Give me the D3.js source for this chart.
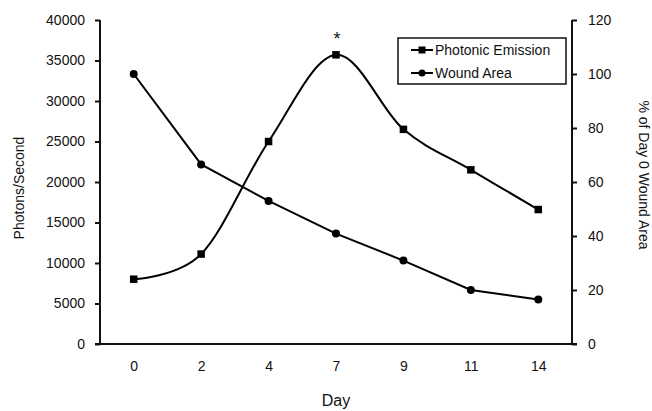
<!DOCTYPE html>
<html><head><meta charset="utf-8">
<script src="https://cdn.jsdelivr.net/npm/d3@7"></script>
<style>
body{margin:0;background:#fff;}
text{font-family:"Liberation Sans",Arial,Helvetica,sans-serif;fill:#111;}
</style></head>
<body><svg id="c" width="652" height="411"></svg>
<script>
const days = ["0","2","4","7","9","11","14"];
const photonic = [8000, 11100, 25000, 35700, 26500, 21500, 16600];
const woundArea = [100, 66.5, 53, 40.9, 30.9, 20, 16.5];
const leftTicks = [0,5000,10000,15000,20000,25000,30000,35000,40000];
const rightTicks = [0,20,40,60,80,100,120];
const seriesNames = ["Photonic Emission","Wound Area"];

const svg = d3.select("#c");
const L = 100, R = 572, T = 20, B = 344;
const x = d3.scalePoint().domain(days).range([L,R]).padding(0.5);
const yL = d3.scaleLinear().domain([0,40000]).range([B,T]);
const yR = d3.scaleLinear().domain([0,120]).range([B,T]);

const gl = svg.append("g").attr("transform",`translate(${L},0)`)
  .call(d3.axisLeft(yL).tickValues(leftTicks).tickSize(5).tickPadding(10).tickFormat(d3.format("d")));
const gr = svg.append("g").attr("transform",`translate(${R},0)`)
  .call(d3.axisRight(yR).tickValues(rightTicks).tickSize(5).tickPadding(11).tickFormat(d3.format("d")));
const gb = svg.append("g").attr("transform",`translate(0,${B})`)
  .call(d3.axisBottom(x).tickSize(0).tickPadding(17));
[gl,gr,gb].forEach(g=>{
  g.select(".domain").attr("stroke","#111").attr("stroke-width",2);
  g.selectAll(".tick line").attr("stroke","#111").attr("stroke-width",2);
  g.selectAll(".tick text").attr("font-size",14).attr("fill","#111")
   .attr("font-family","'Liberation Sans',Arial,sans-serif");
});
gb.select(".domain").attr("d",`M${L-5},0H${R+5}`);
gl.select(".domain").attr("d",`M0,${T}V${B}`);
gr.select(".domain").attr("d",`M0,${T}V${B}`);

const lineP = d3.line().x((d,i)=>x(days[i])).y(d=>yL(d)).curve(d3.curveCardinal.tension(0));
const lineW = d3.line().x((d,i)=>x(days[i])).y(d=>yR(d));
svg.append("path").datum(photonic).attr("d",lineP).attr("fill","none").attr("stroke","#000").attr("stroke-width",2);
svg.append("path").datum(woundArea).attr("d",lineW).attr("fill","none").attr("stroke","#000").attr("stroke-width",2);
svg.selectAll("rect.pm").data(photonic).enter().append("rect")
  .attr("x",(d,i)=>x(days[i])-3.75).attr("y",d=>yL(d)-3.75).attr("width",7.5).attr("height",7.5).attr("fill","#000");
svg.selectAll("circle.wm").data(woundArea).enter().append("circle")
  .attr("cx",(d,i)=>x(days[i])).attr("cy",d=>yR(d)).attr("r",4).attr("fill","#000");

svg.append("text").attr("x",x("7")+1).attr("y",yL(photonic[3])-10).attr("text-anchor","middle")
  .attr("font-size",18).text("*");

const lg = svg.append("g");
lg.append("rect").attr("x",398).attr("y",38).attr("width",168).attr("height",46)
  .attr("fill","#fff").attr("stroke","#111").attr("stroke-width",1.5);
const rows=[50,73];
seriesNames.forEach((n,i)=>{
  lg.append("line").attr("x1",411).attr("x2",433).attr("y1",rows[i]).attr("y2",rows[i]).attr("stroke","#000").attr("stroke-width",2);
  if(i===0) lg.append("rect").attr("x",418.5).attr("y",rows[i]-3.5).attr("width",7).attr("height",7).attr("fill","#000");
  else lg.append("circle").attr("cx",422).attr("cy",rows[i]).attr("r",3.5).attr("fill","#000");
  lg.append("text").attr("x",435).attr("y",rows[i]+5).attr("font-size",14).text(n);
});

svg.append("text").attr("transform","translate(24,188) rotate(-90)").attr("text-anchor","middle")
  .attr("font-size",14).text("Photons/Second");
svg.append("text").attr("transform","translate(639,175) rotate(90)").attr("text-anchor","middle")
  .attr("font-size",14).text("% of Day 0 Wound Area");
svg.append("text").attr("x",336).attr("y",406).attr("text-anchor","middle")
  .attr("font-size",16).text("Day");
</script></body></html>
